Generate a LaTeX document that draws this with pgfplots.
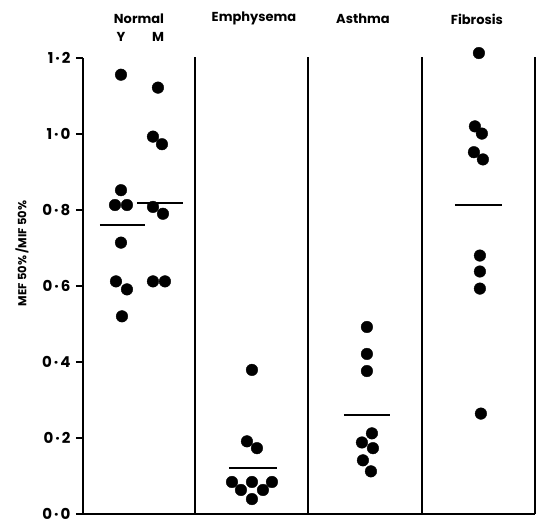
\documentclass[border=0pt]{standalone}
\usepackage{pgfplots}
\pgfplotsset{compat=1.18}
\usepackage{fontspec}
\setmainfont{Poppins}
\newcommand{\dt}{\kern2pt·\kern2pt}
\begin{document}
\begin{tikzpicture}[x=1pt,y=1pt]
\path (0,0) rectangle (536,524);
\begin{axis}[
 at={(83pt,10pt)}, anchor=south west,
 scale only axis, width=452pt, height=456pt,
 xmin=83, xmax=535, ymin=0, ymax=1.2,
 axis lines=left, axis line style={-, line width=2.2pt},
 xtick=\empty,
 ytick={0,0.2,0.4,0.6,0.8,1.0,1.2},
 yticklabels={0\dt0,0\dt2,0\dt4,0\dt6,0\dt8,1\dt0,1\dt2},
 tick align=outside, major tick length=7pt,
 tick style={line width=1.5pt, black},
 yticklabel style={font=\bfseries\fontsize{15}{17}\selectfont, inner ysep=0.5pt, xshift=-2pt},
 ylabel={MEF 50\% /MIF 50\%},
 ylabel style={at={(rel axis cs:-0.135,0.571)}, anchor=center, font=\bfseries\fontsize{11.5}{13}\selectfont},
 clip=false,
]
% separators
\addplot[black, line width=1.6pt] coordinates {(195,0) (195,1.203)};
\addplot[black, line width=1.6pt] coordinates {(308,0) (308,1.203)};
\addplot[black, line width=1.6pt] coordinates {(422,0) (422,1.203)};
\addplot[black, line width=1.6pt] coordinates {(535,0) (535,1.203)};
% means
\addplot[black, line width=1.8pt] coordinates {(100,0.761) (145,0.761)};
\addplot[black, line width=1.8pt] coordinates {(137,0.818) (183,0.818)};
\addplot[black, line width=1.8pt] coordinates {(229,0.120) (277,0.120)};
\addplot[black, line width=1.8pt] coordinates {(344,0.261) (390,0.261)};
\addplot[black, line width=1.8pt] coordinates {(455,0.813) (502,0.813)};
% points
\addplot[only marks, mark=*, mark size=5.8pt, black] coordinates {
(121,1.156) (121,0.852) (115,0.813) (127,0.813) (121,0.714) (116,0.612) (127,0.591) (122,0.520)};
\addplot[only marks, mark=*, mark size=5.8pt, black] coordinates {
(158,1.122) (153,0.993) (162,0.973) (153,0.808) (163,0.790) (153,0.612) (165,0.612)};
\addplot[only marks, mark=*, mark size=5.8pt, black] coordinates {
(252,0.379) (247,0.191) (257,0.173) (232,0.084) (252,0.084) (272,0.084) (241,0.063) (263,0.063) (252,0.039)};
\addplot[only marks, mark=*, mark size=5.8pt, black] coordinates {
(367,0.492) (367,0.421) (367,0.376) (372,0.212) (362,0.188) (373,0.173) (363,0.141) (371,0.112)};
\addplot[only marks, mark=*, mark size=5.8pt, black] coordinates {
(479,1.213) (475,1.020) (482,1.001) (474,0.952) (483,0.933) (480,0.680) (480,0.638) (480,0.593) (481,0.264)};
% titles
\node[font=\bfseries\fontsize{13}{15}\selectfont] at (axis cs:139,1.303) {Normal};
\node[font=\bfseries\fontsize{13}{15}\selectfont] at (axis cs:121,1.255) {Y};
\node[font=\bfseries\fontsize{13}{15}\selectfont] at (axis cs:158,1.255) {M};
\node[font=\bfseries\fontsize{13}{15}\selectfont] at (axis cs:254,1.303) {Emphysema};
\node[font=\bfseries\fontsize{13}{15}\selectfont] at (axis cs:363,1.303) {Asthma};
\node[font=\bfseries\fontsize{13}{15}\selectfont] at (axis cs:477,1.303) {Fibrosis};
\end{axis}
\end{tikzpicture}
\end{document}
